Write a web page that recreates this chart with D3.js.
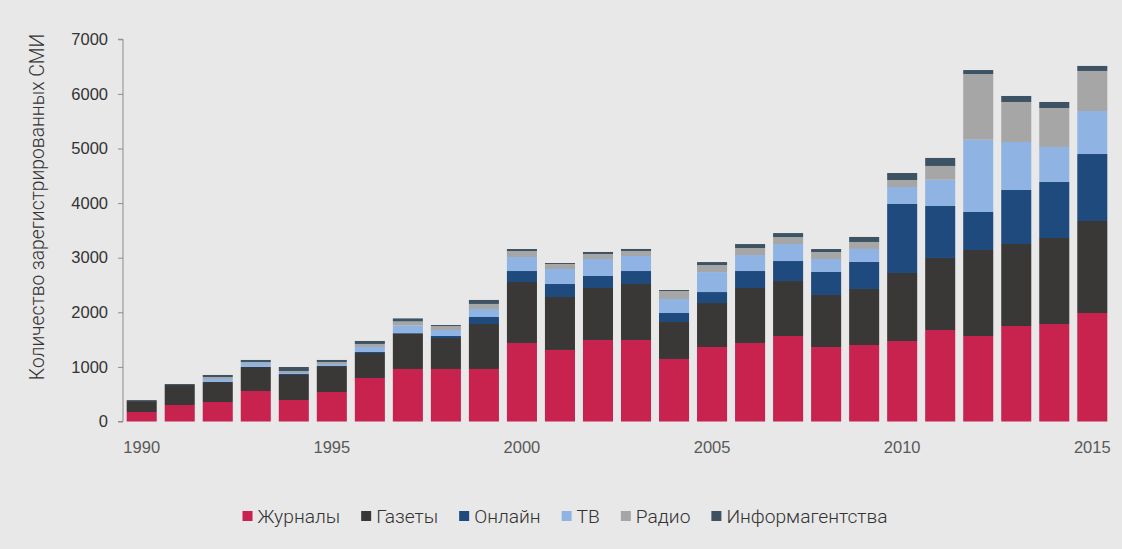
<!DOCTYPE html>
<html><head><meta charset="utf-8">
<script src="https://cdn.jsdelivr.net/npm/d3@7"></script>
<style>
html,body{margin:0;padding:0;background:#e8e8e8;}
svg{display:block;font-family:Roboto,"Noto Sans",sans-serif;}
</style></head>
<body><svg id="c" width="1122" height="549"></svg>
<script>
const years = d3.range(1990, 2016);
const xTickLabels = [1990, 1995, 2000, 2005, 2010, 2015];
const yTicks = [0, 1000, 2000, 3000, 4000, 5000, 6000, 7000];
const seriesNames = ["Журналы", "Газеты", "Онлайн", "ТВ", "Радио", "Информагентства"];
const seriesKeys = ["magazines", "newspapers", "online", "tv", "radio", "agencies"];
const colors = ["#c8224f", "#393836", "#1f4a7e", "#8fb4e3", "#a6a6a6", "#3d5364"];

const magazines  = [174,302,357,559,394,540,797,962,962,962,1438,1310,1493,1493,1145,1364,1438,1566,1364,1401,1474,1676,1566,1749,1786,1987];
const newspapers = [200,366,366,440,458,476,458,646,567,824,1117,970,952,1025,677,806,1007,1007,953,1026,1246,1319,1575,1502,1575,1685];
const online     = [0,0,0,0,18,0,18,18,37,128,201,238,220,238,165,201,311,366,421,495,1264,952,696,989,1026,1227];
const tv         = [0,0,55,73,18,37,92,134,110,147,256,275,311,275,256,366,293,311,238,238,311,482,1324,879,641,788];
const radio      = [0,0,37,18,37,37,55,73,73,92,110,92,92,92,147,128,128,128,128,128,128,251,1203,733,714,733];
const agencies   = [18,18,37,37,73,37,55,55,18,73,37,18,37,37,18,55,73,73,55,92,128,147,73,110,110,92];

const table = years.map((y, i) => ({
  year: y, magazines: magazines[i], newspapers: newspapers[i], online: online[i],
  tv: tv[i], radio: radio[i], agencies: agencies[i]
}));

const svg = d3.select("#c");
const x = d3.scaleBand().domain(years).range([123, 1111]).paddingInner(0.21).paddingOuter(0.097);
const y = d3.scaleLinear().domain([0, 7000]).range([421.5, 39.3]);

const stacked = d3.stack().keys(seriesKeys)(table);
svg.append("g").selectAll("g").data(stacked).join("g")
  .attr("fill", (d, i) => colors[i])
  .selectAll("rect").data(d => d).join("rect")
  .attr("x", d => x(d.data.year))
  .attr("width", x.bandwidth())
  .attr("y", d => y(d[1]))
  .attr("height", d => y(d[0]) - y(d[1]));

// y axis
const yAxis = svg.append("g").attr("transform", "translate(123,0)")
  .call(d3.axisLeft(y).tickValues(yTicks).tickSize(5).tickPadding(10).tickFormat(d3.format("d")));
yAxis.select(".domain").attr("stroke", "#8c8c8c").attr("d", "M-5," + y(7000) + "H0V" + y(0) + "H-5");
yAxis.selectAll(".tick line").attr("stroke", "#8c8c8c");
yAxis.selectAll(".tick text").attr("fill", "#333").style("font-size", "16.5px").style("font-weight", 300)
  .attr("font-family", null);

// x axis (labels only)
const xAxis = svg.append("g").attr("transform", "translate(0,421.5)")
  .call(d3.axisBottom(x).tickValues(xTickLabels).tickSize(0).tickPadding(20));
xAxis.select(".domain").remove();
xAxis.selectAll(".tick text").attr("fill", "#595959").style("font-size", "16.5px").style("font-weight", 300)
  .attr("font-family", null);

// y title
svg.append("text")
  .attr("transform", "translate(44,207) rotate(-90)")
  .attr("text-anchor", "middle")
  .attr("fill", "#333")
  .style("font-size", "19.3px").style("font-weight", 300)
  .text("Количество зарегистрированных СМИ");

// legend
const lg = svg.append("g");
const items = lg.selectAll("g").data(seriesNames).join("g");
items.append("rect").attr("width", 10).attr("height", 10).attr("y", 511).attr("fill", (d, i) => colors[i]);
items.append("text").attr("x", 15).attr("y", 522.5).attr("fill", "#333")
  .style("font-size", "19.2px").style("font-weight", 300).text(d => d);
let cx = 0;
const widths = [];
items.each(function() { widths.push(this.querySelector("text").getComputedTextLength() + 15); });
const gap = 21;
const total = d3.sum(widths) + gap * (widths.length - 1);
const start = 565 - total / 2;
items.attr("transform", (d, i) => {
  const t = "translate(" + (start + cx) + ",0)";
  cx += widths[i] + gap;
  return t;
});
</script></body></html>
